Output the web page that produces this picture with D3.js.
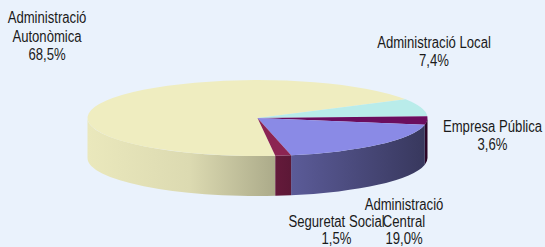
<!DOCTYPE html>
<html>
<head>
<meta charset="utf-8">
<script src="https://cdn.jsdelivr.net/npm/d3@7"></script>
<style>
  html, body { margin: 0; padding: 0; background: #eaf2fc; }
  svg { display: block; }
  text { font-family: "Liberation Sans", Arial, sans-serif; font-size: 16px; fill: #1a1a1a; }
</style>
</head>
<body>
<svg id="chart" width="545" height="247"></svg>
<script>
// ---- data ----
const categories = ["Administració Autonòmica", "Administració Local", "Empresa Pública", "Administració Central", "Seguretat Social"];
const values = [68.5, 7.4, 3.6, 19.0, 1.5];
const colors = ["#efedc0", "#b9ecea", "#6b0d5e", "#8a8ae6", "#8c2452"];

// ---- layout ----
const W = 545, H = 247;
const cx = 257.5, cy = 118, rx = 170, ry = 38, depth = 40;
const startDeg = 174;
// label line layout: [centerX, baselines...], name split into lines
const labelLayout = [
  { x: 47,    ys: [23, 41.5, 60],  lines: ["Administració", "Autonòmica"] },
  { x: 434,   ys: [48, 66],        lines: ["Administració Local"] },
  { x: 492.5, ys: [132, 150],      lines: ["Empresa Pública"] },
  { x: 404,   ys: [210, 227, 243.5], lines: ["Administració", "Central"] },
  { x: 336.5, ys: [227, 243.5],    lines: ["Seguretat Social"] }
];

const svg = d3.select("#chart");
svg.append("rect").attr("width", W).attr("height", H).attr("fill", "#eaf2fc");

const pie = d3.pie().sort(null).value(d => d)
  .startAngle(startDeg * Math.PI / 180)
  .endAngle(startDeg * Math.PI / 180 + 2 * Math.PI);
const arcs = pie(values);

const px = a => cx + rx * Math.sin(a);
const py = a => cy - ry * Math.cos(a);

// gradient for side walls: brightness decreasing left to right
const defs = svg.append("defs");
const shade = [[0, 0.98], [0.3, 0.92], [0.55, 0.72], [0.6, 0.66], [1, 0.40]];
colors.forEach((c, i) => {
  const g = defs.append("linearGradient")
    .attr("id", "side" + i)
    .attr("gradientUnits", "userSpaceOnUse")
    .attr("x1", cx - rx).attr("x2", cx + rx).attr("y1", 0).attr("y2", 0);
  const base = d3.rgb(c);
  shade.forEach(([o, f]) => {
    g.append("stop").attr("offset", o)
      .attr("stop-color", d3.rgb(base.r * f, base.g * f, base.b * f).formatHex());
  });
});

// side walls (front half: angles in [π/2, 3π/2] mod 2π)
const walls = [];
arcs.forEach((d, i) => {
  for (let k = 0; k < 2; k++) {
    const lo = Math.PI / 2 + 2 * Math.PI * k, hi = 3 * Math.PI / 2 + 2 * Math.PI * k;
    const b0 = Math.max(d.startAngle, lo), b1 = Math.min(d.endAngle, hi);
    if (b1 > b0) walls.push({ i, b0, b1 });
  }
});
svg.append("g").selectAll("path").data(walls).join("path")
  .attr("d", w => {
    return `M${px(w.b0)},${py(w.b0)}` +
      `A${rx},${ry} 0 0 1 ${px(w.b1)},${py(w.b1)}` +
      `L${px(w.b1)},${py(w.b1) + depth}` +
      `A${rx},${ry} 0 0 0 ${px(w.b0)},${py(w.b0) + depth}Z`;
  })
  .attr("fill", w => `url(#side${w.i})`);

// top faces
svg.append("g").selectAll("path").data(arcs).join("path")
  .attr("d", d => {
    const large = (d.endAngle - d.startAngle) > Math.PI ? 1 : 0;
    return `M${cx},${cy}L${px(d.startAngle)},${py(d.startAngle)}` +
      `A${rx},${ry} 0 ${large} 1 ${px(d.endAngle)},${py(d.endAngle)}Z`;
  })
  .attr("fill", (d, i) => colors[i]);

// labels
const fmt = v => d3.format(".1f")(v).replace(".", ",") + "%";
const lg = svg.append("g");
labelLayout.forEach((L, i) => {
  const lines = L.lines.concat([fmt(values[i])]);
  lines.forEach((t, j) => {
    lg.append("text")
      .attr("transform", `translate(${L.x},${L.ys[j]}) scale(0.82,1)`)
      .attr("text-anchor", "middle")
      .text(t);
  });
});
</script>
</body>
</html>
